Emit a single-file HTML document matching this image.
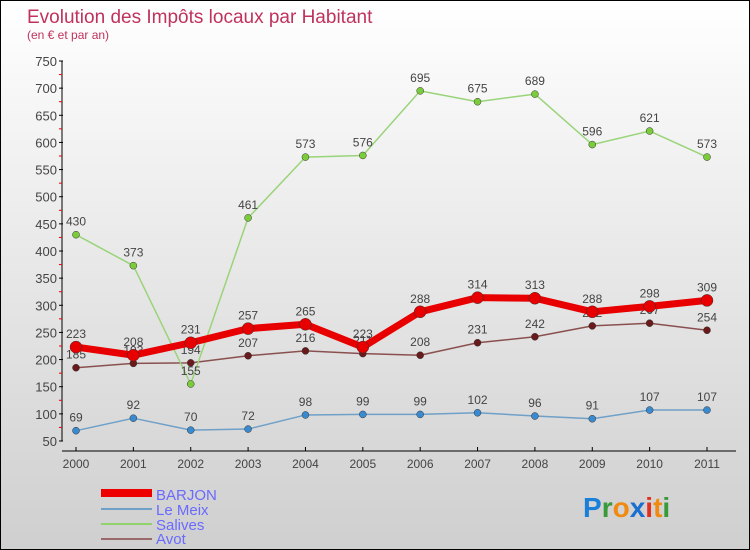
<!DOCTYPE html>
<html><head><meta charset="utf-8"><style>
body{margin:0}
#c{width:748px;height:548px;border:1px solid #000;background:linear-gradient(#fff,#cfcfcf);position:relative;font-family:"Liberation Sans",sans-serif;overflow:hidden}
</style></head><body>
<div id="c">
<svg id="s" width="748" height="548" style="position:absolute;left:0;top:0">
<text x="26" y="22" font-size="19" fill="#c0325e">Evolution des Impôts locaux par Habitant</text>
<text x="26" y="38" font-size="12" fill="#c0325e">(en € et par an)</text>
<g id="ax"></g><g id="ser"></g>
<g font-size="15" fill="#6a6aff">
<rect x="100" y="488" width="51" height="8" fill="#e00"/><text x="155" y="499">BARJON</text>
<line x1="100" y1="508" x2="151" y2="508" stroke="#6fa0c8" stroke-width="2"/><text x="155" y="514">Le Meix</text>
<line x1="100" y1="523" x2="151" y2="523" stroke="#8fd36a" stroke-width="2"/><text x="155" y="529">Salives</text>
<line x1="100" y1="538" x2="151" y2="538" stroke="#9a6a6a" stroke-width="2"/><text x="155" y="543">Avot</text>
</g>
<text x="582" y="516" font-size="28" font-weight="bold"><tspan fill="#1a7fd8">P</tspan><tspan fill="#3a9a3a">r</tspan><tspan fill="#f08a10">o</tspan><tspan fill="#1a6fd0">x</tspan><tspan fill="#e03020">i</tspan><tspan fill="#f08a10">t</tspan><tspan fill="#3a9a3a">i</tspan></text>
</svg></div>
<script>
const years=["2000","2001","2002","2003","2004","2005","2006","2007","2008","2009","2010","2011"];
const yTicks=[50,100,150,200,250,300,350,400,450,500,550,600,650,700,750];
const barjon=[223,208,231,257,265,223,288,314,313,288,298,309];
const leMeix=[69,92,70,72,98,99,99,102,96,91,107,107];
const salives=[430,373,155,461,573,576,695,675,689,596,621,573];
const avot=[185,193,194,207,216,211,208,231,242,262,267,254];
const NS="http://www.w3.org/2000/svg";
const X=i=>75+i*(631/11), Y=v=>440-(v-50)*380/700;
function mk(t,a,p){const e=document.createElementNS(NS,t);for(const k in a)e.setAttribute(k,a[k]);p.appendChild(e);return e;}
const ax=document.getElementById('ax');
mk('line',{x1:61,y1:60,x2:61,y2:440,stroke:'#000'},ax);
mk('line',{x1:61,y1:450,x2:735,y2:450,stroke:'#000'},ax);
yTicks.forEach(v=>{mk('line',{x1:58,y1:Y(v),x2:62,y2:Y(v),stroke:'#000'},ax);
 if(v<750)mk('line',{x1:58,y1:Y(v+25),x2:61,y2:Y(v+25),stroke:'#e00'},ax);
 const t=mk('text',{x:56,y:Y(v)+5,'font-size':13,fill:'#444','text-anchor':'end'},ax);t.textContent=v;
 
 });
years.forEach((y,i)=>{mk('line',{x1:X(i),y1:446,x2:X(i),y2:450,stroke:'#000'},ax);
 const t=mk('text',{x:X(i),y:467,'font-size':12,fill:'#444','text-anchor':'middle'},ax);t.textContent=y;
 
 });
const ser=document.getElementById('ser');
function draw(d,name,col,w,r,dot){const g=mk('g',{},ser);
 
 
 mk('polyline',{points:d.map((v,i)=>X(i)+','+Y(v)).join(' '),fill:'none',stroke:col,'stroke-width':w,'stroke-linejoin':'round'},g);
 d.forEach((v,i)=>{const c=mk('circle',{cx:X(i),cy:Y(v),r:r,fill:dot,stroke:'#333','stroke-width':0.5},g);
  
  
  const t=mk('text',{x:X(i),y:Y(v)-9,'font-size':12,fill:'#444','text-anchor':'middle'},g);t.textContent=v;});}
draw(avot,'series-avot','#8a5050',1.5,3.5,'#6a1a1a');
draw(salives,'series-salives','#9ad47a',1.5,3.5,'#7acc3a');
draw(leMeix,'series-le-meix','#6fa0c8',1.5,3.5,'#3a8ad0');
draw(barjon,'series-barjon','#e80000',7,6,'#e80000');
</script></body></html>
